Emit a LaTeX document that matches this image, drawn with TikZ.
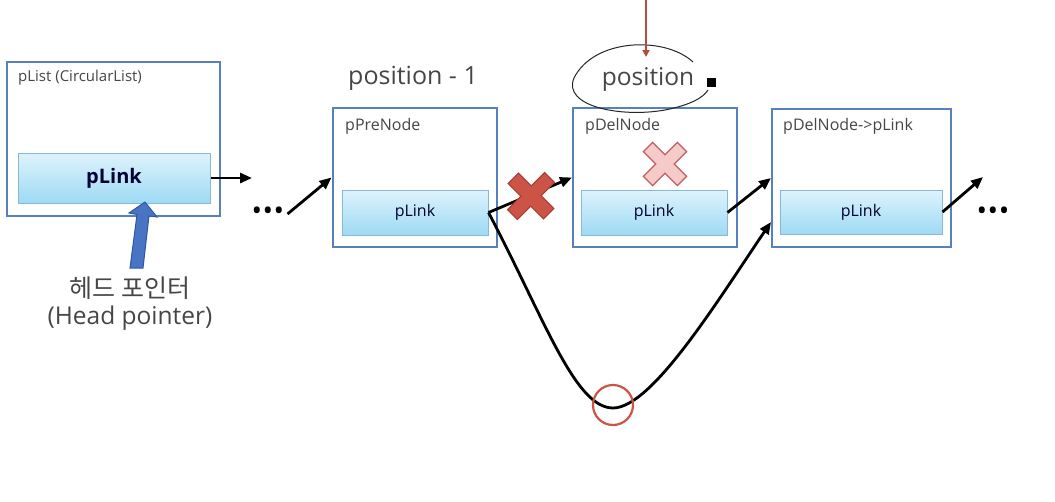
\documentclass[tikz,border=0pt]{standalone}
\usepackage{fontspec}
\setmainfont{Open Sans}
\newfontfamily\kor{Noto Sans CJK KR}
\usetikzlibrary{arrows.meta}
\definecolor{boxblue}{RGB}{86,128,190}
\definecolor{linktop}{RGB}{222,243,252}
\definecolor{linkbot}{RGB}{158,218,244}
\definecolor{linkline}{RGB}{135,185,215}
\definecolor{txtgray}{RGB}{70,70,70}
\definecolor{markred}{RGB}{204,84,70}
\definecolor{markdark}{RGB}{165,60,52}
\definecolor{markpink}{RGB}{245,202,200}
\definecolor{pinkline}{RGB}{190,95,95}
\definecolor{headblue}{RGB}{72,116,196}
\definecolor{headline}{RGB}{48,88,160}
\tikzset{
	nodebox/.style={draw=boxblue,line width=2pt,fill=white,inner sep=0pt},
	linkbox/.style={draw=linkline,line width=1pt,top color=linktop,bottom color=linkbot,inner sep=0pt,text=black!80!blue,font=\fontsize{16}{18}\selectfont},
	boxlabel/.style={anchor=west,text=txtgray,inner sep=0pt,font=\fontsize{16}{18}\selectfont},
	link/.style={-{Triangle[length=12pt,width=10pt]},line width=2.8pt,black},
	dots/.style={inner sep=0pt,font=\fontsize{28}{28}\selectfont}
}
\begin{document}
\begin{tikzpicture}[x=1pt,y=-1pt]
	\useasboundingbox (0,0) rectangle (1055,501);
	\pgfmathsetmacro\LW{146}
	\pgfmathsetmacro\LH{45}

	\node[nodebox,minimum width=213pt,minimum height=154pt] (pList) at (113.5,139) {};
	\node[nodebox,minimum width=164pt,minimum height=139pt] (preNode) at (414.5,177.5) {};
	\node[nodebox,minimum width=164pt,minimum height=139pt] (delNode) at (655,177.5) {};
	\node[nodebox,minimum width=179pt,minimum height=138pt] (nextNode) at (861.5,178) {};

	\node[linkbox,minimum width=192pt,minimum height=50pt,font=\fontsize{20}{22}\selectfont\bfseries] (pListLink) at (114,178) {pLink};
	\node[linkbox,minimum width=\LW pt,minimum height=\LH pt] (preLink) at (415,212.5) {pLink};
	\node[linkbox,minimum width=\LW pt,minimum height=\LH pt] (delLink) at (654,212.5) {pLink};
	\node[linkbox,minimum width=162pt,minimum height=44pt] (nextLink) at (861,212) {pLink};

	\draw node[boxlabel,font=\fontsize{15}{17}\selectfont] (pListName) at (18,78) {pList (CircularList)};
	\draw node[boxlabel] (preName) at (345,126) {pPreNode};
	\draw node[boxlabel] (delName) at (585,126) {pDelNode};
	\draw node[boxlabel] (nextName) at (783,126) {pDelNode->pLink};

	\draw node[text=txtgray,font=\fontsize{25}{27}\selectfont] (prePos) at (413,78) {position - 1};
	\draw node[text=txtgray,font=\fontsize{24.5}{26}\selectfont] (delPos) at (648,79) {position};
	\fill[black] (706.5,77.5) rectangle (715.5,86.5);

	\coordinate (end1) at (252,178);
	\coordinate (end5) at (983,177);
	\coordinate (low) at (613,408);
	\draw node[dots] (dots1) at (268,214) {\textbullet\kern0.5pt\textbullet\kern0.5pt\textbullet};
	\draw node[dots] (dots2) at (993,214) {\textbullet\kern0.5pt\textbullet\kern0.5pt\textbullet};

	\draw[link] (pListLink.east) -- (end1);
	\draw[link] (dots1.east) ++(3,0) -- (preNode.west);
	\draw[link] (preLink.east) -- (delNode.west);
	\draw[link] (delLink.east) -- (nextNode.west);
	\draw[link] (nextLink.east) -- (end5);
	\draw[link] (preLink.east) .. controls (545,320) and (575,408) .. (low) .. controls (652,408) and (718,300) .. ([yshift=-44pt]nextNode.west);

	\draw[markred,line width=2.2pt] (613,405) circle (20);

	% red X on the old link
	\begin{scope}[shift={(531,196)},rotate=45,xscale=1.05]
		\draw[fill=markred,draw=markdark,line width=1pt] (7,7) -- (7,25) -- (-7,25) -- (-7,7) -- (-25,7) -- (-25,-7) -- (-7,-7) -- (-7,-25) -- (7,-25) -- (7,-7) -- (25,-7) -- (25,7) -- cycle;
	\end{scope}
	\begin{scope}[shift={(665,164)},rotate=45]
		\draw[fill=markpink,draw=pinkline,line width=1.2pt] (6.5,6.5) -- (6.5,24) -- (-6.5,24) -- (-6.5,6.5) -- (-24,6.5) -- (-24,-6.5) -- (-6.5,-6.5) -- (-6.5,-24) -- (6.5,-24) -- (6.5,-6.5) -- (24,-6.5) -- (24,6.5) -- cycle;
	\end{scope}

	% hand drawn mark
	\draw[black!85,line width=1pt] (693,62) .. controls (665,36) and (594,38) .. (574,78) .. controls (562,106) and (620,118) .. (665,110) .. controls (690,105) and (703,98) .. (708,90);
	\coordinate (redTop) at (646,0);
	\draw[markred!90!black,line width=2.4pt,-{Triangle[length=7pt,width=7pt]}] (redTop) -- (646,57);

	% head pointer
	\draw[fill=headblue,draw=headline,line width=1pt] (130,268) -- (143,268) -- (149,216) -- (157,217) -- (145,202) -- (129,213) -- (137,214.5) -- cycle;
	\draw node[text=txtgray,font=\kor\fontsize{25}{27}\selectfont] (headKor) at (130,288) {헤드 포인터};
	\draw node[text=txtgray,font=\fontsize{24.5}{26}\selectfont] (headEng) at (130,318) {(Head pointer)};
\end{tikzpicture}
\end{document}
